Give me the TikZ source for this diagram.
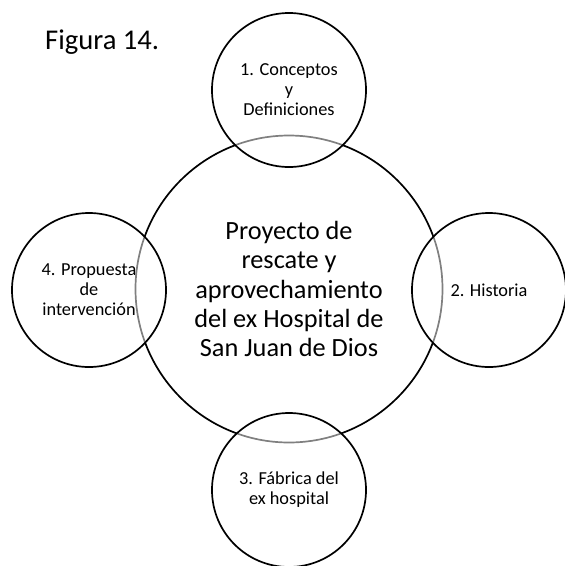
\documentclass[tikz,border=0pt]{standalone}
\usepackage{fontspec}
\setmainfont{Carlito}
\begin{document}
\begin{tikzpicture}[x=1pt,y=-1pt,
  ring/.style={circle,draw=black,line width=1.7pt,inner sep=0pt,align=center},
  small/.style={ring,minimum size=154pt,fill=white,fill opacity=0.5,text opacity=1,
    font=\fontsize{18.3}{20}\selectfont},
  big/.style={ring,minimum size=307pt,font=\fontsize{26.3}{29.3}\selectfont}]
\useasboundingbox (0,0) rectangle (565,566);
\node[big] (core) at (289,289) {Proyecto de\\rescate y\\aprovechamiento\\del ex Hospital de\\San Juan de Dios};
\node[small] (c1) at (289,90) {1. Conceptos\\y\\Definiciones};
\node[small] (c2) at (489,290) {2. Historia};
\node[small] (c3) at (289,490) {3. Fábrica del\\ex hospital};
\node[small] (c4) at (89,290) {4. Propuesta\\de\\intervención};
\node[anchor=base west,inner sep=0pt,font=\fontsize{28.6}{32}\selectfont] (title) at (45,49) {Figura 14.};
\end{tikzpicture}
\end{document}
